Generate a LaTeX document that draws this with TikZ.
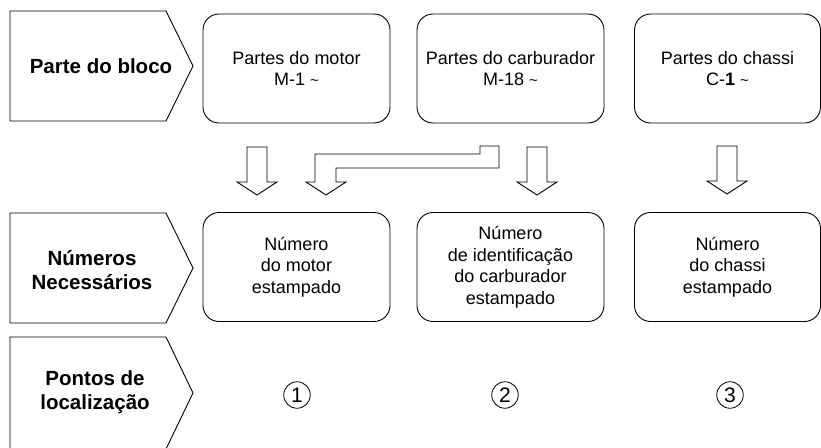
\documentclass[tikz,border=0pt]{standalone}
\usepackage{fontspec}
\setmainfont{Liberation Sans}
\newcommand{\tl}{{\fontsize{15}{15}\selectfont\textasciitilde}}
\begin{document}
\begin{tikzpicture}
  [x=1pt,y=-1pt,line width=0.9pt,
   head/.style={font=\bfseries\fontsize{20.5}{24}\selectfont,align=center,inner sep=0pt},
   part/.style={draw,rounded corners=16pt,minimum width=187pt,minimum height=109pt,inner sep=0pt,align=center,font=\fontsize{18}{21.5}\selectfont},
   tab/.style={draw,line join=miter},
   hollow/.style={draw,line join=miter},
   num/.style={draw,circle,line width=0.8pt,minimum size=26.5pt,inner sep=0pt,font=\fontsize{21}{21}\selectfont},
   dnarrow/.pic={\draw[hollow] (-10,0) -- (10,0) -- (10,35) -- (20,35) -- (0,48) -- (-20,35) -- (-10,35) -- cycle;}]

  \useasboundingbox (0,0) rectangle (821,447);

  % row headings
  \draw[tab] (10,11) -- (166,11) -- (193,66) -- (166,121) -- (10,121) -- cycle;
  \draw[tab] (10,213) -- (166,213) -- (193,268) -- (166,323) -- (10,323) -- cycle;
  \draw[tab] (10,337) -- (166,337) -- (193,393) -- (166,449) -- (10,449) -- cycle;
  \node[head] (bloco) at (101,66) {Parte do bloco};
  \node[head] (numeros) at (92,270) {Números\\Necessários};
  \node[head] (pontos) at (95,392) {Pontos de\\localização};

  % parts
  \node[part] (motor) at (296.5,68.5) {Partes do motor\\M-1 \tl};
  \node[part] (carb) at (510.5,68.5) {Partes do carburador\\M-18 \tl};
  \node[part,minimum width=186pt] (chassi) at (727.5,68.5) {Partes do chassi\\C-\textbf{1} \tl};

  % numbers
  \node[part] (n_motor) at (296.5,267) {Número\\do motor\\estampado};
  \node[part] (n_carb) at (510.5,267) {Número\\de identificação\\do carburador\\estampado};
  \node[part,minimum width=186pt] (n_chassi) at (727.5,267) {Número\\do chassi\\estampado};

  % locations
  \node[num] (p1) at (297,395) {1};
  \node[num] (p2) at (505,395) {2};
  \node[num] (p3) at (730,395) {3};

  % arrows
  \pic at (257,147) {dnarrow};
  \pic at (537,147) {dnarrow};
  \pic at (727,146) {dnarrow};
  \draw[hollow] (315,154) -- (480,154) -- (480,146) -- (499,146) -- (499,168) -- (336,168)
    -- (336,182) -- (346,182) -- (326,195) -- (306,182) -- (315,182) -- cycle;

\end{tikzpicture}
\end{document}
